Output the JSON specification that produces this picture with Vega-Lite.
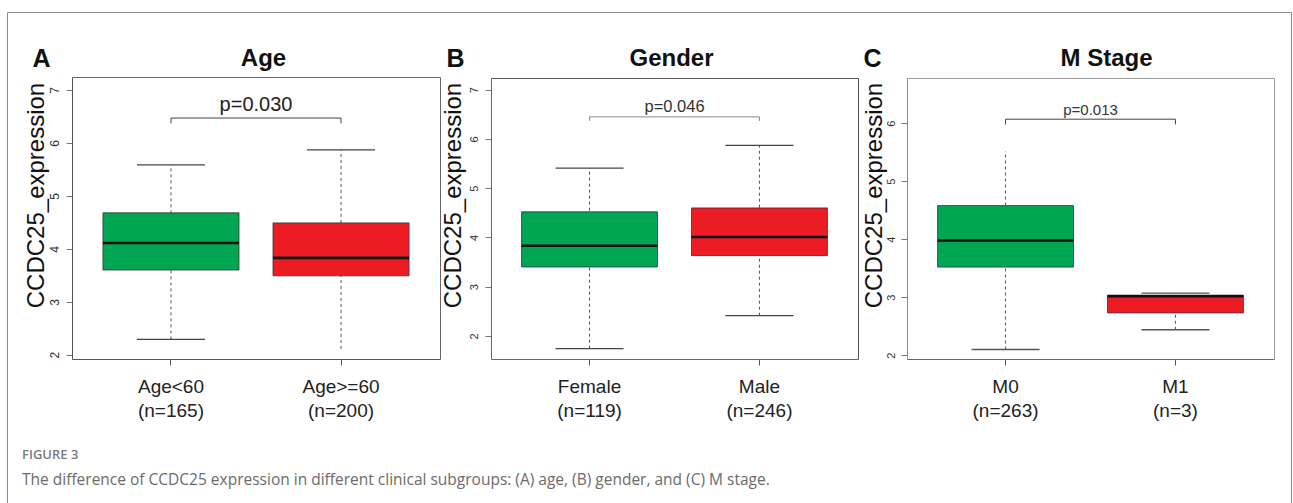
{
  "$schema": "https://vega.github.io/schema/vega-lite/v6.json",
  "width": 1284,
  "height": 491,
  "autosize": {"type": "none"},
  "padding": {"left": 7, "top": 12, "right": 2, "bottom": 0},
  "background": "white",
  "view": {"stroke": "#8a8a8a", "strokeWidth": 1},
  "config": {"font": "Liberation Sans", "view": {"stroke": "#8a8a8a", "strokeWidth": 1}},
  "title": {
    "text": "FIGURE 3",
    "subtitle": "The difference of CCDC25 expression in different clinical subgroups: (A) age, (B) gender, and (C) M stage.",
    "orient": "bottom",
    "anchor": "start",
    "frame": "group",
    "offset": -54,
    "dx": 15,
    "font": "Open Sans",
    "fontSize": 13,
    "fontWeight": 600,
    "color": "#7a7a7a",
    "subtitleFont": "Open Sans",
    "subtitleFontSize": 15.5,
    "subtitleColor": "#6b6b6b",
    "subtitlePadding": 11
  },
  "datasets": {
    "boxes": [
      {"panel": "A", "group": "Age<60 (n=165)", "order": 1, "lo": 2.29, "q1": 3.60, "med": 4.11, "q3": 4.68, "hi": 5.585, "capLo": 2.29, "capHi": 5.585},
      {"panel": "A", "group": "Age>=60 (n=200)", "order": 2, "lo": 2.11, "q1": 3.49, "med": 3.83, "q3": 4.49, "hi": 5.87, "capLo": null, "capHi": 5.87},
      {"panel": "B", "group": "Female (n=119)", "order": 1, "lo": 1.74, "q1": 3.40, "med": 3.83, "q3": 4.52, "hi": 5.41, "capLo": 1.74, "capHi": 5.41},
      {"panel": "B", "group": "Male (n=246)", "order": 2, "lo": 2.41, "q1": 3.63, "med": 4.01, "q3": 4.60, "hi": 5.87, "capLo": 2.41, "capHi": 5.87},
      {"panel": "C", "group": "M0 (n=263)", "order": 1, "lo": 2.10, "q1": 3.52, "med": 3.98, "q3": 4.58, "hi": 5.52, "capLo": 2.10, "capHi": null},
      {"panel": "C", "group": "M1 (n=3)", "order": 2, "lo": 2.44, "q1": 2.73, "med": 3.02, "q3": 3.03, "hi": 3.07, "capLo": 2.44, "capHi": 3.07}
    ],
    "tests": [
      {"panel": "A", "g1": "Age<60 (n=165)", "g2": "Age>=60 (n=200)", "p": "p=0.030", "level": 6.47, "end": 6.37},
      {"panel": "B", "g1": "Female (n=119)", "g2": "Male (n=246)", "p": "p=0.046", "level": 6.45, "end": 6.37},
      {"panel": "C", "g1": "M0 (n=263)", "g2": "M1 (n=3)", "p": "p=0.013", "level": 6.07, "end": 5.98}
    ]
  },
  "resolve": {"scale": {"x": "independent", "y": "independent"}},
  "layer": [
    {
      "resolve": {"axis": {"x": "independent", "y": "independent"}},
      "layer": [
        {
          "data": {"name": "boxes"},
          "transform": [{"filter": "datum.panel === 'A'"}],
          "mark": {"type": "rule", "strokeDash": [3, 3], "color": "#555", "strokeWidth": 1},
          "encoding": {
            "x": {"field": "group", "type": "nominal",
              "scale": {"domain": ["Age<60 (n=165)", "Age>=60 (n=200)"], "range": [65, 433], "paddingInner": 0.2, "paddingOuter": 0.182},
              "axis": {"orient": "bottom", "offset": -144, "domain": true, "domainColor": "#555", "ticks": true, "tickSize": 6, "tickColor": "#555", "labelAngle": 0, "labelFontSize": 19, "labelColor": "#222", "labelPadding": 12, "labelLineHeight": 24, "labelExpr": "split(datum.label, ' ')", "labelFlush": false, "labelOverlap": false, "labelLimit": 300, "title": null}},
            "y": {"field": "lo", "type": "quantitative",
              "scale": {"domain": [1.92, 7.245], "range": [347, 65], "zero": false, "nice": false},
              "axis": {"orient": "left", "offset": -65, "values": [2, 3, 4, 5, 6, 7], "domain": true, "domainColor": "#555", "grid": false, "ticks": true, "tickSize": 6, "tickColor": "#777", "labelAngle": 270, "labelFontSize": 12, "labelColor": "#333", "labelPadding": 5, "labelFlush": false, "labelOverlap": false, "title": "CCDC25_expression", "titleFontSize": 24, "titleFontWeight": "normal", "titleColor": "#111", "titleAngle": 270, "titleX": -36, "titleY": 183, "titleAlign": "center", "titleBaseline": "middle"}},
            "y2": {"field": "hi"}
          }
        },
        {
          "data": {"name": "boxes"},
          "transform": [{"filter": "datum.panel === 'A' && datum.capLo != null"}],
          "mark": {"type": "tick", "size": 68, "thickness": 1.3, "color": "#444", "opacity": 1},
          "encoding": {
            "x": {"field": "group", "type": "nominal", "scale": {"domain": ["Age<60 (n=165)", "Age>=60 (n=200)"], "range": [65, 433], "paddingInner": 0.2, "paddingOuter": 0.182}, "axis": null},
            "y": {"field": "capLo", "type": "quantitative", "scale": {"domain": [1.92, 7.245], "range": [347, 65], "zero": false, "nice": false}, "axis": null}
          }
        },
        {
          "data": {"name": "boxes"},
          "transform": [{"filter": "datum.panel === 'A' && datum.capHi != null"}],
          "mark": {"type": "tick", "size": 68, "thickness": 1.3, "color": "#444", "opacity": 1},
          "encoding": {
            "x": {"field": "group", "type": "nominal", "scale": {"domain": ["Age<60 (n=165)", "Age>=60 (n=200)"], "range": [65, 433], "paddingInner": 0.2, "paddingOuter": 0.182}, "axis": null},
            "y": {"field": "capHi", "type": "quantitative", "scale": {"domain": [1.92, 7.245], "range": [347, 65], "zero": false, "nice": false}, "axis": null}
          }
        },
        {
          "data": {"name": "boxes"},
          "transform": [{"filter": "datum.panel === 'A'"}],
          "mark": {"type": "bar", "stroke": "#333", "strokeWidth": 0.8},
          "encoding": {
            "x": {"field": "group", "type": "nominal", "scale": {"domain": ["Age<60 (n=165)", "Age>=60 (n=200)"], "range": [65, 433], "paddingInner": 0.2, "paddingOuter": 0.182}, "axis": null},
            "y": {"field": "q1", "type": "quantitative", "scale": {"domain": [1.92, 7.245], "range": [347, 65], "zero": false, "nice": false}, "axis": null},
            "y2": {"field": "q3"},
            "fill": {"field": "order", "type": "nominal", "scale": {"domain": [1, 2], "range": ["#00A651", "#ED1C24"]}, "legend": null}
          }
        },
        {
          "data": {"name": "boxes"},
          "transform": [{"filter": "datum.panel === 'A'"}],
          "mark": {"type": "tick", "size": 136, "thickness": 2.6, "color": "#111", "opacity": 1},
          "encoding": {
            "x": {"field": "group", "type": "nominal", "scale": {"domain": ["Age<60 (n=165)", "Age>=60 (n=200)"], "range": [65, 433], "paddingInner": 0.2, "paddingOuter": 0.182},
              "axis": {"orient": "top", "offset": -65, "domain": true, "domainColor": "#666", "ticks": false, "labels": false, "grid": false, "title": "Age", "titleFontSize": 24, "titleFontWeight": "bold", "titleColor": "#111", "titleAngle": 0, "titleX": 256, "titleY": -12, "titleAlign": "center", "titleBaseline": "alphabetic"}},
            "y": {"field": "med", "type": "quantitative", "scale": {"domain": [1.92, 7.245], "range": [347, 65], "zero": false, "nice": false},
              "axis": {"orient": "right", "offset": -851, "domain": true, "domainColor": "#666", "ticks": false, "labels": false, "grid": false, "title": "A", "titleFontSize": 25, "titleFontWeight": "bold", "titleColor": "#111", "titleAngle": 0, "titleX": -399, "titleY": 54, "titleAlign": "center", "titleBaseline": "alphabetic"}}
          }
        },
        {
          "data": {"name": "tests"},
          "transform": [{"filter": "datum.panel === 'A'"}],
          "mark": {"type": "rule", "color": "#444", "strokeWidth": 1},
          "encoding": {
            "x": {"field": "g1", "type": "nominal", "scale": {"domain": ["Age<60 (n=165)", "Age>=60 (n=200)"], "range": [65, 433], "paddingInner": 0.2, "paddingOuter": 0.182}, "axis": null},
            "x2": {"field": "g2"},
            "y": {"field": "level", "type": "quantitative", "scale": {"domain": [1.92, 7.245], "range": [347, 65], "zero": false, "nice": false}, "axis": null}
          }
        },
        {
          "data": {"name": "tests"},
          "transform": [{"filter": "datum.panel === 'A'"}, {"fold": ["g1", "g2"], "as": ["side", "group"]}],
          "mark": {"type": "rule", "color": "#444", "strokeWidth": 1},
          "encoding": {
            "x": {"field": "group", "type": "nominal", "scale": {"domain": ["Age<60 (n=165)", "Age>=60 (n=200)"], "range": [65, 433], "paddingInner": 0.2, "paddingOuter": 0.182}, "axis": null},
            "y": {"field": "level", "type": "quantitative", "scale": {"domain": [1.92, 7.245], "range": [347, 65], "zero": false, "nice": false}, "axis": null},
            "y2": {"field": "end"}
          }
        },
        {
          "data": {"name": "tests"},
          "transform": [{"filter": "datum.panel === 'A'"}],
          "mark": {"type": "text", "fontSize": 20, "color": "#222", "baseline": "alphabetic", "align": "center", "dy": -7},
          "encoding": {
            "x": {"field": "g1", "type": "nominal", "bandPosition": 1.125, "scale": {"domain": ["Age<60 (n=165)", "Age>=60 (n=200)"], "range": [65, 433], "paddingInner": 0.2, "paddingOuter": 0.182}, "axis": null},
            "y": {"field": "level", "type": "quantitative", "scale": {"domain": [1.92, 7.245], "range": [347, 65], "zero": false, "nice": false}, "axis": null},
            "text": {"field": "p"}
          }
        }
      ]
    },
    {
      "resolve": {"axis": {"x": "independent", "y": "independent"}},
      "layer": [
        {
          "data": {"name": "boxes"},
          "transform": [{"filter": "datum.panel === 'B'"}],
          "mark": {"type": "rule", "strokeDash": [3, 3], "color": "#555", "strokeWidth": 1},
          "encoding": {
            "x": {"field": "group", "type": "nominal",
              "scale": {"domain": ["Female (n=119)", "Male (n=246)"], "range": [484, 851], "paddingInner": 0.2, "paddingOuter": 0.18},
              "axis": {"orient": "bottom", "offset": -144, "domain": true, "domainColor": "#666", "ticks": true, "tickSize": 6, "tickColor": "#555", "labelAngle": 0, "labelFontSize": 19, "labelColor": "#222", "labelPadding": 12, "labelLineHeight": 24, "labelExpr": "split(datum.label, ' ')", "labelFlush": false, "labelOverlap": false, "labelLimit": 300, "title": null}},
            "y": {"field": "lo", "type": "quantitative",
              "scale": {"domain": [1.53, 7.24], "range": [347, 66], "zero": false, "nice": false},
              "axis": {"orient": "left", "offset": -484, "values": [2, 3, 4, 5, 6, 7], "domain": true, "domainColor": "#666", "grid": false, "ticks": true, "tickSize": 6, "tickColor": "#777", "labelAngle": 270, "labelFontSize": 11, "labelColor": "#333", "labelPadding": 6, "labelFlush": false, "labelOverlap": false, "title": "CCDC25_expression", "titleFontSize": 24, "titleFontWeight": "normal", "titleColor": "#111", "titleAngle": 270, "titleX": -38, "titleY": 183, "titleAlign": "center", "titleBaseline": "middle"}},
            "y2": {"field": "hi"}
          }
        },
        {
          "data": {"name": "boxes"},
          "transform": [{"filter": "datum.panel === 'B' && datum.capLo != null"}],
          "mark": {"type": "tick", "size": 68, "thickness": 1.3, "color": "#444", "opacity": 1},
          "encoding": {
            "x": {"field": "group", "type": "nominal", "scale": {"domain": ["Female (n=119)", "Male (n=246)"], "range": [484, 851], "paddingInner": 0.2, "paddingOuter": 0.18}, "axis": null},
            "y": {"field": "capLo", "type": "quantitative", "scale": {"domain": [1.53, 7.24], "range": [347, 66], "zero": false, "nice": false}, "axis": null}
          }
        },
        {
          "data": {"name": "boxes"},
          "transform": [{"filter": "datum.panel === 'B' && datum.capHi != null"}],
          "mark": {"type": "tick", "size": 68, "thickness": 1.3, "color": "#444", "opacity": 1},
          "encoding": {
            "x": {"field": "group", "type": "nominal", "scale": {"domain": ["Female (n=119)", "Male (n=246)"], "range": [484, 851], "paddingInner": 0.2, "paddingOuter": 0.18}, "axis": null},
            "y": {"field": "capHi", "type": "quantitative", "scale": {"domain": [1.53, 7.24], "range": [347, 66], "zero": false, "nice": false}, "axis": null}
          }
        },
        {
          "data": {"name": "boxes"},
          "transform": [{"filter": "datum.panel === 'B'"}],
          "mark": {"type": "bar", "stroke": "#333", "strokeWidth": 0.8},
          "encoding": {
            "x": {"field": "group", "type": "nominal", "scale": {"domain": ["Female (n=119)", "Male (n=246)"], "range": [484, 851], "paddingInner": 0.2, "paddingOuter": 0.18}, "axis": null},
            "y": {"field": "q1", "type": "quantitative", "scale": {"domain": [1.53, 7.24], "range": [347, 66], "zero": false, "nice": false}, "axis": null},
            "y2": {"field": "q3"},
            "fill": {"field": "order", "type": "nominal", "scale": {"domain": [1, 2], "range": ["#00A651", "#ED1C24"]}, "legend": null}
          }
        },
        {
          "data": {"name": "boxes"},
          "transform": [{"filter": "datum.panel === 'B'"}],
          "mark": {"type": "tick", "size": 136, "thickness": 2.6, "color": "#111", "opacity": 1},
          "encoding": {
            "x": {"field": "group", "type": "nominal", "scale": {"domain": ["Female (n=119)", "Male (n=246)"], "range": [484, 851], "paddingInner": 0.2, "paddingOuter": 0.18},
              "axis": {"orient": "top", "offset": -66, "domain": true, "domainColor": "#555", "ticks": false, "labels": false, "grid": false, "title": "Gender", "titleFontSize": 24, "titleFontWeight": "bold", "titleColor": "#111", "titleAngle": 0, "titleX": 664, "titleY": -13, "titleAlign": "center", "titleBaseline": "alphabetic"}},
            "y": {"field": "med", "type": "quantitative", "scale": {"domain": [1.53, 7.24], "range": [347, 66], "zero": false, "nice": false},
              "axis": {"orient": "right", "offset": -433, "domain": true, "domainColor": "#555", "ticks": false, "labels": false, "grid": false, "title": "B", "titleFontSize": 25, "titleFontWeight": "bold", "titleColor": "#111", "titleAngle": 0, "titleX": -403, "titleY": 54, "titleAlign": "center", "titleBaseline": "alphabetic"}}
          }
        },
        {
          "data": {"name": "tests"},
          "transform": [{"filter": "datum.panel === 'B'"}],
          "mark": {"type": "rule", "color": "#888", "strokeWidth": 1},
          "encoding": {
            "x": {"field": "g1", "type": "nominal", "scale": {"domain": ["Female (n=119)", "Male (n=246)"], "range": [484, 851], "paddingInner": 0.2, "paddingOuter": 0.18}, "axis": null},
            "x2": {"field": "g2"},
            "y": {"field": "level", "type": "quantitative", "scale": {"domain": [1.53, 7.24], "range": [347, 66], "zero": false, "nice": false}, "axis": null}
          }
        },
        {
          "data": {"name": "tests"},
          "transform": [{"filter": "datum.panel === 'B'"}, {"fold": ["g1", "g2"], "as": ["side", "group"]}],
          "mark": {"type": "rule", "color": "#888", "strokeWidth": 1},
          "encoding": {
            "x": {"field": "group", "type": "nominal", "scale": {"domain": ["Female (n=119)", "Male (n=246)"], "range": [484, 851], "paddingInner": 0.2, "paddingOuter": 0.18}, "axis": null},
            "y": {"field": "level", "type": "quantitative", "scale": {"domain": [1.53, 7.24], "range": [347, 66], "zero": false, "nice": false}, "axis": null},
            "y2": {"field": "end"}
          }
        },
        {
          "data": {"name": "tests"},
          "transform": [{"filter": "datum.panel === 'B'"}],
          "mark": {"type": "text", "fontSize": 16.5, "color": "#333", "baseline": "alphabetic", "align": "center", "dy": -5},
          "encoding": {
            "x": {"field": "g1", "type": "nominal", "bandPosition": 1.125, "scale": {"domain": ["Female (n=119)", "Male (n=246)"], "range": [484, 851], "paddingInner": 0.2, "paddingOuter": 0.18}, "axis": null},
            "y": {"field": "level", "type": "quantitative", "scale": {"domain": [1.53, 7.24], "range": [347, 66], "zero": false, "nice": false}, "axis": null},
            "text": {"field": "p"}
          }
        }
      ]
    },
    {
      "resolve": {"axis": {"x": "independent", "y": "independent"}},
      "layer": [
        {
          "data": {"name": "boxes"},
          "transform": [{"filter": "datum.panel === 'C'"}],
          "mark": {"type": "rule", "strokeDash": [3, 3], "color": "#555", "strokeWidth": 1},
          "encoding": {
            "x": {"field": "group", "type": "nominal",
              "scale": {"domain": ["M0 (n=263)", "M1 (n=3)"], "range": [900, 1267], "paddingInner": 0.2, "paddingOuter": 0.18},
              "axis": {"orient": "bottom", "offset": -144, "domain": true, "domainColor": "#666", "ticks": true, "tickSize": 6, "tickColor": "#555", "labelAngle": 0, "labelFontSize": 19, "labelColor": "#222", "labelPadding": 12, "labelLineHeight": 24, "labelExpr": "split(datum.label, ' ')", "labelFlush": false, "labelOverlap": false, "labelLimit": 300, "title": null}},
            "y": {"field": "lo", "type": "quantitative",
              "scale": {"domain": [1.936, 6.78], "range": [347, 66], "zero": false, "nice": false},
              "axis": {"orient": "left", "offset": -900, "values": [2, 3, 4, 5, 6], "domain": true, "domainColor": "#888", "grid": false, "ticks": true, "tickSize": 6, "tickColor": "#777", "labelAngle": 270, "labelFontSize": 11, "labelColor": "#333", "labelPadding": 5, "labelFlush": false, "labelOverlap": false, "title": "CCDC25_expression", "titleFontSize": 24, "titleFontWeight": "normal", "titleColor": "#111", "titleAngle": 270, "titleX": -33, "titleY": 183, "titleAlign": "center", "titleBaseline": "middle"}},
            "y2": {"field": "hi"}
          }
        },
        {
          "data": {"name": "boxes"},
          "transform": [{"filter": "datum.panel === 'C' && datum.capLo != null"}],
          "mark": {"type": "tick", "size": 68, "thickness": 1.3, "color": "#555", "opacity": 1},
          "encoding": {
            "x": {"field": "group", "type": "nominal", "scale": {"domain": ["M0 (n=263)", "M1 (n=3)"], "range": [900, 1267], "paddingInner": 0.2, "paddingOuter": 0.18}, "axis": null},
            "y": {"field": "capLo", "type": "quantitative", "scale": {"domain": [1.936, 6.78], "range": [347, 66], "zero": false, "nice": false}, "axis": null}
          }
        },
        {
          "data": {"name": "boxes"},
          "transform": [{"filter": "datum.panel === 'C' && datum.capHi != null"}],
          "mark": {"type": "tick", "size": 68, "thickness": 1.3, "color": "#555", "opacity": 1},
          "encoding": {
            "x": {"field": "group", "type": "nominal", "scale": {"domain": ["M0 (n=263)", "M1 (n=3)"], "range": [900, 1267], "paddingInner": 0.2, "paddingOuter": 0.18}, "axis": null},
            "y": {"field": "capHi", "type": "quantitative", "scale": {"domain": [1.936, 6.78], "range": [347, 66], "zero": false, "nice": false}, "axis": null}
          }
        },
        {
          "data": {"name": "boxes"},
          "transform": [{"filter": "datum.panel === 'C'"}],
          "mark": {"type": "bar", "stroke": "#333", "strokeWidth": 0.8},
          "encoding": {
            "x": {"field": "group", "type": "nominal", "scale": {"domain": ["M0 (n=263)", "M1 (n=3)"], "range": [900, 1267], "paddingInner": 0.2, "paddingOuter": 0.18}, "axis": null},
            "y": {"field": "q1", "type": "quantitative", "scale": {"domain": [1.936, 6.78], "range": [347, 66], "zero": false, "nice": false}, "axis": null},
            "y2": {"field": "q3"},
            "fill": {"field": "order", "type": "nominal", "scale": {"domain": [1, 2], "range": ["#00A651", "#ED1C24"]}, "legend": null}
          }
        },
        {
          "data": {"name": "boxes"},
          "transform": [{"filter": "datum.panel === 'C'"}],
          "mark": {"type": "tick", "size": 136, "thickness": 2.6, "color": "#111", "opacity": 1},
          "encoding": {
            "x": {"field": "group", "type": "nominal", "scale": {"domain": ["M0 (n=263)", "M1 (n=3)"], "range": [900, 1267], "paddingInner": 0.2, "paddingOuter": 0.18},
              "axis": {"orient": "top", "offset": -66, "domain": true, "domainColor": "#999", "ticks": false, "labels": false, "grid": false, "title": "M Stage", "titleFontSize": 24, "titleFontWeight": "bold", "titleColor": "#111", "titleAngle": 0, "titleX": 1099, "titleY": -13, "titleAlign": "center", "titleBaseline": "alphabetic"}},
            "y": {"field": "med", "type": "quantitative", "scale": {"domain": [1.936, 6.78], "range": [347, 66], "zero": false, "nice": false},
              "axis": {"orient": "right", "offset": -17, "domain": true, "domainColor": "#999", "ticks": false, "labels": false, "grid": false, "title": "C", "titleFontSize": 25, "titleFontWeight": "bold", "titleColor": "#111", "titleAngle": 0, "titleX": -402, "titleY": 54, "titleAlign": "center", "titleBaseline": "alphabetic"}}
          }
        },
        {
          "data": {"name": "tests"},
          "transform": [{"filter": "datum.panel === 'C'"}],
          "mark": {"type": "rule", "color": "#444", "strokeWidth": 1},
          "encoding": {
            "x": {"field": "g1", "type": "nominal", "scale": {"domain": ["M0 (n=263)", "M1 (n=3)"], "range": [900, 1267], "paddingInner": 0.2, "paddingOuter": 0.18}, "axis": null},
            "x2": {"field": "g2"},
            "y": {"field": "level", "type": "quantitative", "scale": {"domain": [1.936, 6.78], "range": [347, 66], "zero": false, "nice": false}, "axis": null}
          }
        },
        {
          "data": {"name": "tests"},
          "transform": [{"filter": "datum.panel === 'C'"}, {"fold": ["g1", "g2"], "as": ["side", "group"]}],
          "mark": {"type": "rule", "color": "#444", "strokeWidth": 1},
          "encoding": {
            "x": {"field": "group", "type": "nominal", "scale": {"domain": ["M0 (n=263)", "M1 (n=3)"], "range": [900, 1267], "paddingInner": 0.2, "paddingOuter": 0.18}, "axis": null},
            "y": {"field": "level", "type": "quantitative", "scale": {"domain": [1.936, 6.78], "range": [347, 66], "zero": false, "nice": false}, "axis": null},
            "y2": {"field": "end"}
          }
        },
        {
          "data": {"name": "tests"},
          "transform": [{"filter": "datum.panel === 'C'"}],
          "mark": {"type": "text", "fontSize": 15, "color": "#333", "baseline": "alphabetic", "align": "center", "dy": -4},
          "encoding": {
            "x": {"field": "g1", "type": "nominal", "bandPosition": 1.125, "scale": {"domain": ["M0 (n=263)", "M1 (n=3)"], "range": [900, 1267], "paddingInner": 0.2, "paddingOuter": 0.18}, "axis": null},
            "y": {"field": "level", "type": "quantitative", "scale": {"domain": [1.936, 6.78], "range": [347, 66], "zero": false, "nice": false}, "axis": null},
            "text": {"field": "p"}
          }
        }
      ]
    }
  ]
}
